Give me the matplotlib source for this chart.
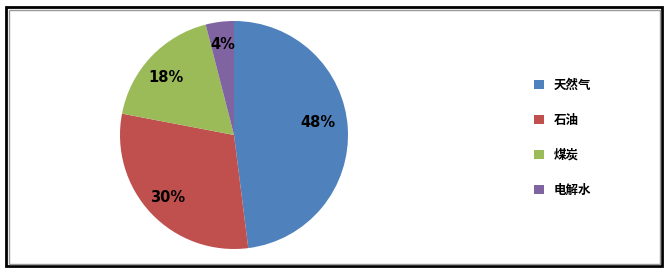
import matplotlib.pyplot as plt
from matplotlib.patches import Rectangle

plt.rcParams['font.family'] = ['Noto Sans CJK SC', 'DejaVu Sans']

# energy source shares (percent)
sources = ['天然气', '石油', '煤炭', '电解水']
shares = [48, 30, 18, 4]
colors = ['#4F81BD', '#C0504D', '#9BBB59', '#8064A2']

W, H = 670, 273
fig = plt.figure(figsize=(W / 100, H / 100), dpi=100)

# pie centred at (234, 135) px with radius 114 px
cx, cy, r = 234, 135, 114
ax = fig.add_axes([(cx - r) / W, (H - cy - r) / H, 2 * r / W, 2 * r / H])
wedges, texts, autotexts = ax.pie(
    shares, colors=colors, startangle=90, counterclock=False,
    autopct='%d%%', pctdistance=0.8,
    wedgeprops=dict(linewidth=0),
    textprops=dict(fontsize=10.5, fontweight='bold', color='black',
                   family='DejaVu Sans'),
)
# "best fit" placement of some slice labels, as in the original
autotexts[0].set_position((0.74, 0.11))
autotexts[2].set_position((-0.6, 0.5))
ax.set_xlim(-1, 1)
ax.set_ylim(-1, 1)
ax.set_aspect('equal')

# legend on the right
leg = fig.legend(
    wedges, sources, loc='upper left',
    bbox_to_anchor=(523 / W, 1 - 68 / H), frameon=False,
    prop=dict(size=9, weight='bold', style='italic'),
    handlelength=0.75, handleheight=0.75, handletextpad=0.8,
    labelspacing=1.75,
)

# chart frame: black outer border with a grey inner line
fig.patches.append(Rectangle((6 / W, 1 - 266 / H), 656 / W, 259 / H,
                             transform=fig.transFigure, fill=False,
                             edgecolor='black', linewidth=2))
fig.patches.append(Rectangle((8.5 / W, 1 - 263.5 / H), 651 / W, 254 / H,
                             transform=fig.transFigure, fill=False,
                             edgecolor='#999999', linewidth=1))

fig.savefig('out.png', dpi=100)
